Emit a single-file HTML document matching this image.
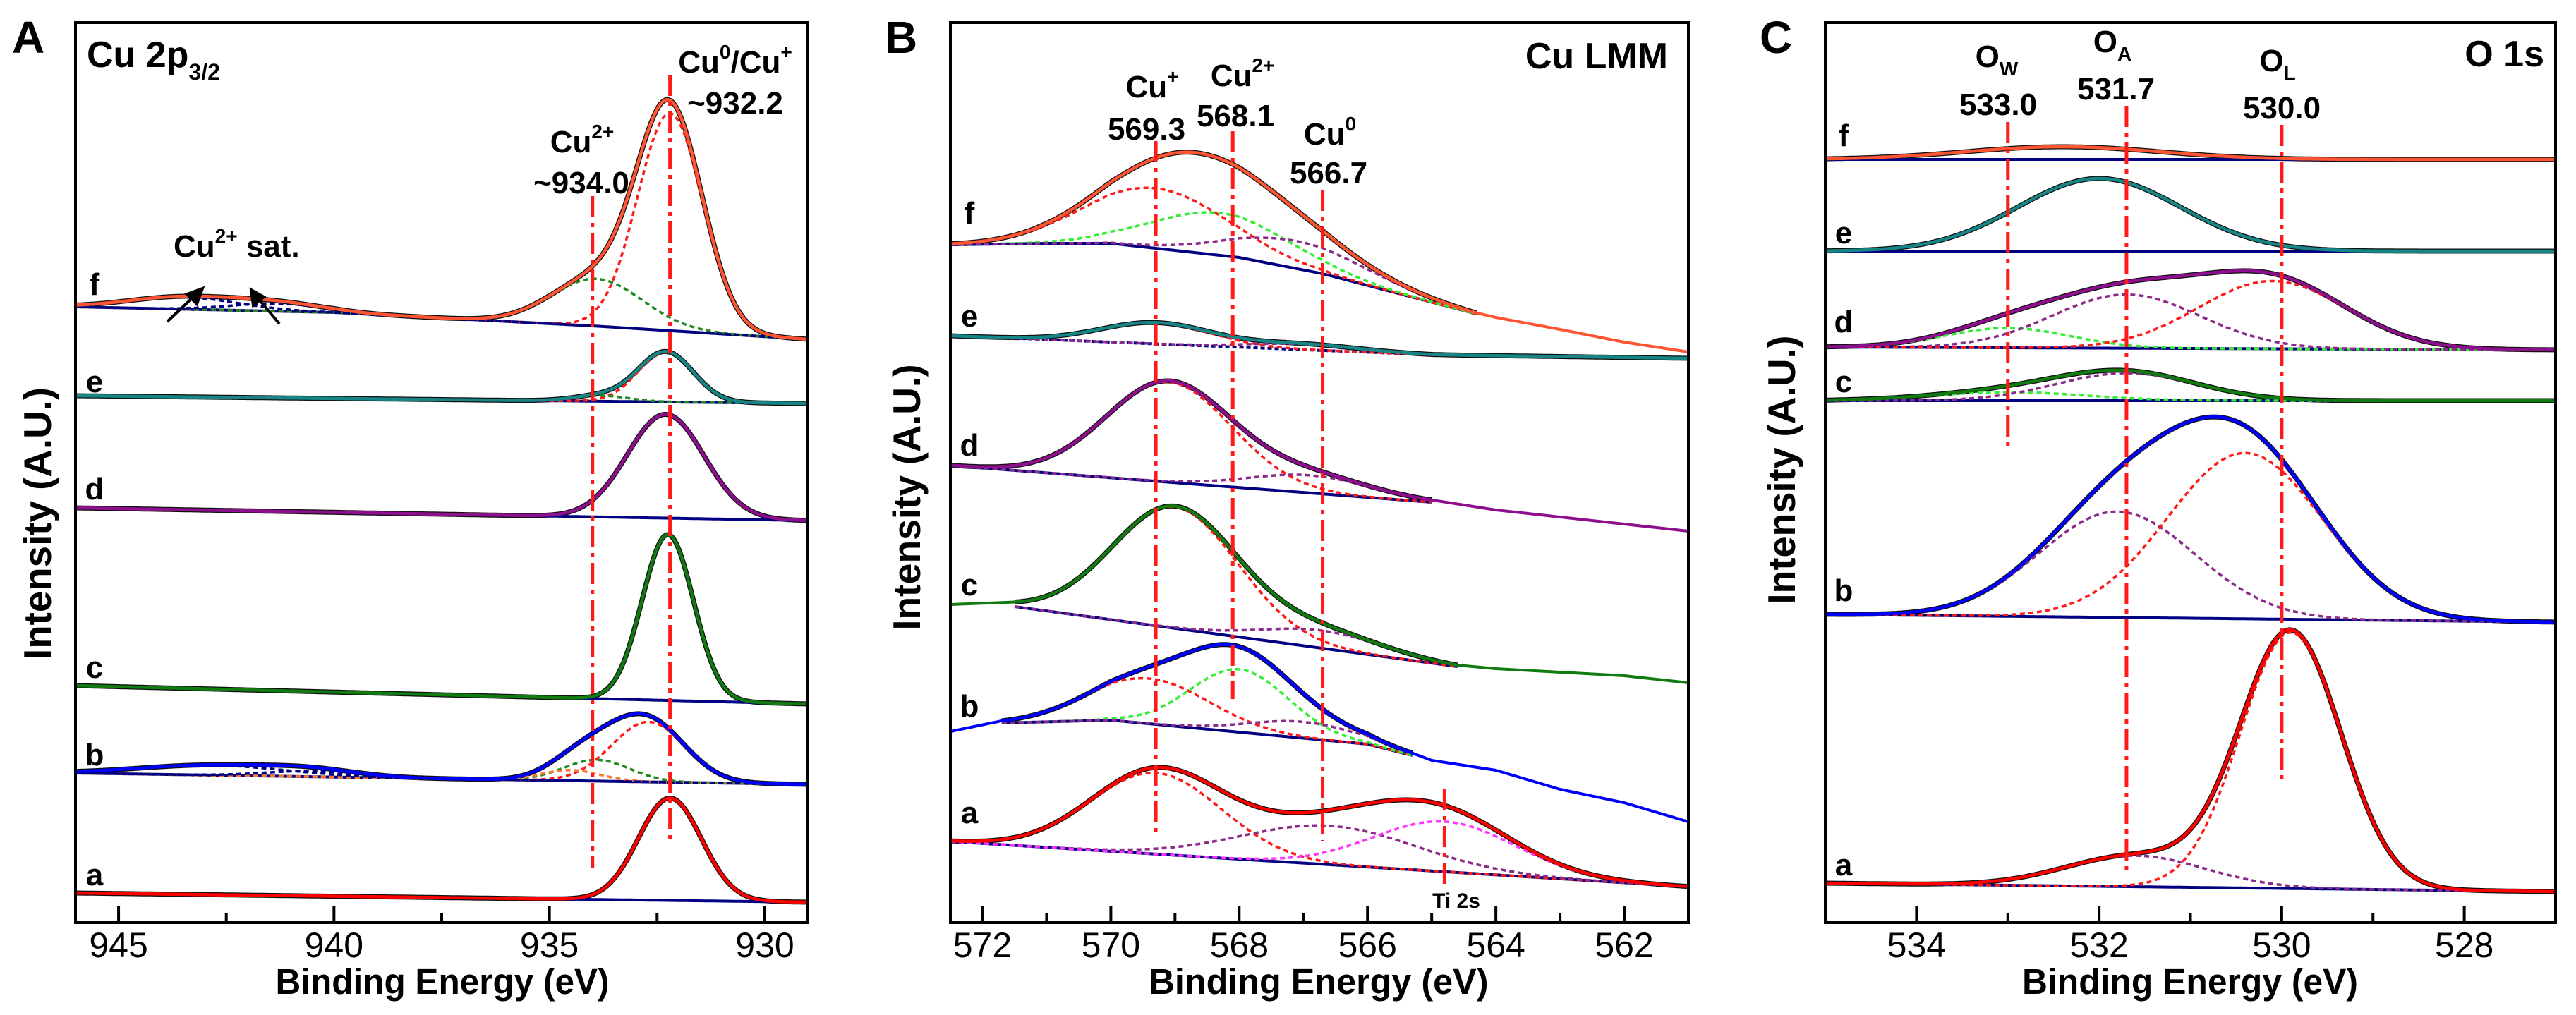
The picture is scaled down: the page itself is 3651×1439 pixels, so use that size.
<!DOCTYPE html>
<html><head><meta charset="utf-8"><title>XPS spectra</title>
<style>
html,body{margin:0;padding:0;background:#fff}
svg{display:block;font-family:"Liberation Sans",Arial,sans-serif}
.lab{font-weight:bold;font-size:44px}
.tick{font-size:50px}
</style></head>
<body>
<svg id="fig" width="3651" height="1439" viewBox="0 0 3651 1439" xmlns="http://www.w3.org/2000/svg">
<rect width="3651" height="1439" fill="#fff"/>
<g id="layer"></g>
<g font-weight="bold">
  <text x="17" y="75" font-size="64">A</text>
  <text x="1254" y="75" font-size="64">B</text>
  <text x="2494" y="75" font-size="64">C</text>
  <text x="123" y="95" font-size="52">Cu 2p<tspan font-size="32" dy="18">3/2</tspan></text>
  <text x="2364" y="97" font-size="52" text-anchor="end">Cu LMM</text>
  <text x="3606" y="94" font-size="52" text-anchor="end">O 1s</text>

  <text class="lab" x="825" y="216" text-anchor="middle">Cu<tspan font-size="28" dy="-20">2+</tspan></text>
  <text class="lab" x="824" y="274" text-anchor="middle">~934.0</text>
  <text class="lab" x="1042" y="103" text-anchor="middle">Cu<tspan font-size="28" dy="-20">0</tspan><tspan dy="20">/Cu</tspan><tspan font-size="28" dy="-20">+</tspan></text>
  <text class="lab" x="1042" y="161" text-anchor="middle">~932.2</text>
  <text class="lab" x="246" y="364">Cu<tspan font-size="28" dy="-20">2+</tspan><tspan dy="20"> sat.</tspan></text>

  <text class="lab" x="1633" y="138" text-anchor="middle">Cu<tspan font-size="28" dy="-20">+</tspan></text>
  <text class="lab" x="1625" y="198" text-anchor="middle">569.3</text>
  <text class="lab" x="1761" y="122" text-anchor="middle">Cu<tspan font-size="28" dy="-20">2+</tspan></text>
  <text class="lab" x="1751" y="179" text-anchor="middle">568.1</text>
  <text class="lab" x="1885" y="205" text-anchor="middle">Cu<tspan font-size="28" dy="-20">0</tspan></text>
  <text class="lab" x="1883" y="260" text-anchor="middle">566.7</text>
  <text x="2064" y="1287" font-size="30" text-anchor="middle">Ti 2s</text>

  <text class="lab" x="2830" y="95" text-anchor="middle">O<tspan font-size="28" dy="12">W</tspan></text>
  <text class="lab" x="2832" y="163" text-anchor="middle">533.0</text>
  <text class="lab" x="2994" y="74" text-anchor="middle">O<tspan font-size="28" dy="12">A</tspan></text>
  <text class="lab" x="2999" y="141" text-anchor="middle">531.7</text>
  <text class="lab" x="3228" y="101" text-anchor="middle">O<tspan font-size="28" dy="12">L</tspan></text>
  <text class="lab" x="3234" y="168" text-anchor="middle">530.0</text>
</g>
<g stroke="#000" stroke-width="4" fill="#000">
  <line x1="237" y1="456" x2="276" y2="419"/><polygon points="287,409 265,417 279,431"/>
  <line x1="396" y1="459" x2="365" y2="422"/><polygon points="356,411 359,433 374,421"/>
</g>
</svg>
<script>
// ---------- data (intensity units, component = [center eV, height, FWHM eV]) ----------
const aTicks = [945, 940, 935, 930];
const aMinor = [942.5, 937.5, 932.5];
const bTicks = [572, 570, 568, 566, 564, 562];
const bMinor = [571, 569, 567, 565, 563, 561];
const cTicks = [534, 532, 530, 528];
const cMinor = [533, 531, 529];

const A_f_base = [[946, 873], [940, 865], [934, 846], [929, 827]];
const A_f_comp = [[932.2, 308, 1.78], [933.9, 67, 2.5], [943.5, 17, 3.0], [941.3, 11, 2.5]];
const A_e_base = [[946, 747], [929, 736]];
const A_e_comp = [[932.3, 71, 1.5], [933.8, 8, 1.5]];
const A_d_base = [[946, 588], [929, 570]];
const A_d_comp = [[932.3, 147, 2.1]];
const A_c_base = [[946, 336], [929, 310]];
const A_c_comp = [[932.25, 235, 1.4]];
const A_b_base = [[946, 212], [929, 196]];
const A_b_comp = [[932.7, 85, 2.0], [933.9, 30, 1.8], [934.5, 15, 1.6], [942.8, 14, 4.0], [940.5, 8, 2.5]];
const A_a_base = [[946, 42], [929, 29]];
const A_a_comp = [[932.2, 145, 1.72]];

const B_f_base = [[572.5, 961], [571, 963], [570, 963], [568, 943], [566.7, 920], [564.3, 863]];
const B_f_comp = [[569.3, 85, 2.6], [568.3, 60, 2.5], [567.1, 39, 2.5]];
const B_f_tail = [[564, 858], [563, 841], [562, 823], [561, 809]];
const B_e_base = [[572.5, 832], [565, 805], [561, 800]];
const B_e_comp = [[569.3, 30, 2.0], [567.0, 8, 2.0]];
const B_d_base = [[572.5, 648], [565.0, 596]];
const B_d_comp = [[569.1, 142, 2.3], [566.9, 25, 2.2]];
const B_d_tail = [[564, 585], [563, 575], [562, 565], [561, 555]];
const B_c_base = [[571.5, 448], [564.6, 363]];
const B_c_comp = [[569.0, 172, 2.3], [566.7, 25, 2.2]];
const B_c_pre = [[572.5, 451]];
const B_c_tail = [[564, 360], [562, 350], [561, 340]];
const B_b_base = [[571.7, 283], [570, 287], [566, 253], [565.3, 237]];
const B_b_comp = [[569.4, 64, 2.2], [568.0, 89, 1.8], [567.0, 23, 2.0]];
const B_b_pre = [[572.5, 271]];
const B_b_tail = [[565, 230], [564, 216], [563, 189], [562, 170], [561, 143]];
const B_a_base = [[572.5, 115], [561, 51]];
const B_a_comp = [[569.3, 115, 2.4], [566.6, 55, 3.2], [564.8, 71, 2.6]];

const C_f_base = [[535, 1082], [527, 1082]];
const C_f_comp = [[532.4, 18, 2.5]];
const C_e_base = [[535, 952], [527, 952]];
const C_e_comp = [[532.0, 103, 2.1]];
const C_d_base = [[535, 816], [527, 812]];
const C_d_comp = [[533.0, 28, 1.6], [531.7, 76, 1.9], [530.1, 96, 1.9]];
const C_c_base = [[535, 740], [527, 740]];
const C_c_comp = [[533.0, 12, 2.0], [531.7, 39, 1.8]];
const C_b_base = [[535, 437], [527, 426]];
const C_b_comp = [[531.8, 150, 2.0], [530.4, 235, 2.0]];
const C_a_base = [[535, 56], [527, 44]];
const C_a_comp = [[529.9, 363, 1.3], [531.6, 44, 1.8]];

const aMarkers = [934.0, 932.2];
const bMarkers = [569.3, 568.1, 566.7, 564.8];
const cMarkers = [533.0, 531.7, 530.0];

// ---------- drawing ----------
const NS = 'http://www.w3.org/2000/svg';
const layer = document.getElementById('layer');
const RED = '#ff1a1a', NAVY = '#000080';
function mk(tag, attrs, parent) {
  const el = document.createElementNS(NS, tag);
  for (const k in attrs) el.setAttribute(k, attrs[k]);
  (parent || layer).appendChild(el);
  return el;
}
function gauss(E, c) { return c[1] * Math.exp(-4 * Math.LN2 * ((E - c[0]) / c[2]) ** 2); }
function interp(knots, E) {
  if (knots.length === 1) return knots[0][1];
  for (let i = 0; i < knots.length - 1; i++) {
    const a = knots[i], b = knots[i + 1];
    if ((E <= a[0] && E >= b[0]) || i === knots.length - 2) {
      const t = (a[0] - E) / (a[0] - b[0]);
      return a[1] + t * (b[1] - a[1]);
    }
  }
}
function Panel(x0, x1, e0, e1) {
  const p = { x0, x1, e0, e1, y0: 32, y1: 1308 };
  p.x = E => x0 + (e0 - E) / (e0 - e1) * (x1 - x0);
  p.y = I => 1308 - I;
  return p;
}
function pathFrom(p, pts) {
  return pts.map((q, i) => (i ? 'L' : 'M') + p.x(q[0]).toFixed(1) + ' ' + p.y(q[1]).toFixed(1)).join(' ');
}
function grid(a, b) { const out = []; const n = Math.round(Math.abs(a - b) / 0.02); for (let i = 0; i <= n; i++) out.push(a + (b - a) * i / n); return out; }

function spectrum(p, name, base, comps, opt) {
  const g = mk('g', {});
  
  
  const fs = base[0][0], fe = base[base.length - 1][0];
  const es = grid(fs, fe);
  const bl = E => interp(base, E);
  const fit = es.map(E => [E, bl(E) + comps.reduce((s, c) => s + gauss(E, c), 0)]);
  let expPts = fit.slice();
  if (opt.pre) expPts = opt.pre.concat(expPts);
  if (opt.tail) expPts = expPts.concat(opt.tail);
  // full experimental trace in colour
  const ex = mk('path', { d: pathFrom(p, expPts), fill: 'none', stroke: opt.color, 'stroke-width': 4, 'stroke-linejoin': 'round' }, g);
  
  
  // black raw data around fit
  const raw = mk('path', { d: pathFrom(p, fit), fill: 'none', stroke: '#111', 'stroke-width': 7, 'stroke-linejoin': 'round' }, g);
  
  
  // baseline
  const bp = mk('path', { d: pathFrom(p, es.map(E => [E, bl(E)])), fill: 'none', stroke: NAVY, 'stroke-width': 4, 'stroke-dasharray': opt.dotBase ? '6 4' : 'none' }, g);
  
  
  // components
  comps.forEach((c, i) => {
    const cp = mk('path', { d: pathFrom(p, es.map(E => [E, bl(E) + gauss(E, c)])), fill: 'none', stroke: opt.comp[i] || RED, 'stroke-width': 3.5, 'stroke-dasharray': '7 5' }, g);
    
    
  });
  // fit
  const fp = mk('path', { d: pathFrom(p, fit), fill: 'none', stroke: opt.color, 'stroke-width': 4.5, 'stroke-linejoin': 'round' }, g);
  
  
}

function axes(p, id, ticks, minor, xtitleX, xtitleLen, ytX, ytY, ytLen) {
  const g = mk('g', {});
  
  
  const fr = mk('rect', { x: p.x0, y: p.y0, width: p.x1 - p.x0, height: p.y1 - p.y0, fill: 'none', stroke: '#000', 'stroke-width': 4 }, g);
  
  
  ticks.forEach(t => {
    const tl = mk('line', { x1: p.x(t), x2: p.x(t), y1: p.y1, y2: p.y1 - 23, stroke: '#000', 'stroke-width': 4 }, g);
    
    
    const tx = mk('text', { x: p.x(t), y: 1357, 'text-anchor': 'middle', class: 'tick' }, g);
    
    
    tx.textContent = t;
  });
  minor.forEach(t => {
    const tl = mk('line', { x1: p.x(t), x2: p.x(t), y1: p.y1, y2: p.y1 - 13, stroke: '#000', 'stroke-width': 4 }, g);
    
    
  });
  const xt = mk('text', { x: xtitleX, y: 1409, 'text-anchor': 'middle', 'font-weight': 'bold', 'font-size': 51, textLength: xtitleLen, lengthAdjust: 'spacingAndGlyphs' }, g);
  
  
  xt.textContent = 'Binding Energy (eV)';
  const yt = mk('text', { x: 0, y: 0, 'text-anchor': 'middle', 'font-weight': 'bold', 'font-size': 55, textLength: ytLen, lengthAdjust: 'spacingAndGlyphs', transform: `translate(${ytX + 19},${ytY}) rotate(-90)` }, g);
  
  
  yt.textContent = 'Intensity (A.U.)';
}

function marker(p, E, yTop, yBot) {
  const l = mk('line', { x1: p.x(E), x2: p.x(E), y1: yTop, y2: yBot, stroke: RED, 'stroke-width': 5, 'stroke-dasharray': '30 8 6 8' });
  
  
}
function letter(x, y, t) {
  const tx = mk('text', { x, y: y + 16, 'text-anchor': 'middle', class: 'lab' });
  
  
  tx.textContent = t;
}

const PA = Panel(107, 1145, 946, 929);
const PB = Panel(1347, 2393, 572.5, 561);
const PC = Panel(2587, 3622, 535, 527);

const cF = '#ff5533', cE = '#178585', cD = '#8e0f8e', cC = '#117a11', cB = '#0000ff', cA = '#ff0000';
const DG = '#1f8a1f', LIME = '#33ee33', PUR = '#8b2a8b', MAG = '#ff33ff', OR = '#ff7733';

// Panel A
spectrum(PA, 'a-f', A_f_base, A_f_comp, { color: cF, comp: [RED, DG, NAVY, NAVY] });
spectrum(PA, 'a-e', A_e_base, A_e_comp, { color: cE, comp: [RED, DG] });
spectrum(PA, 'a-d', A_d_base, A_d_comp, { color: cD, comp: [PUR] });
spectrum(PA, 'a-c', A_c_base, A_c_comp, { color: cC, comp: [DG] });
spectrum(PA, 'a-b', A_b_base, A_b_comp, { color: cB, comp: [RED, DG, OR, NAVY, NAVY] });
spectrum(PA, 'a-a', A_a_base, A_a_comp, { color: cA, comp: [RED] });
marker(PA, aMarkers[0], 278, 1230);
marker(PA, aMarkers[1], 106, 1193);
axes(PA, 'a', aTicks, aMinor, 627, 473, 53, 742, 386);
[['f', 402], ['e', 540], ['d', 692], ['c', 945], ['b', 1069], ['a', 1239]].forEach(q => letter(134, q[1], q[0]));

// Panel B
spectrum(PB, 'b-f', B_f_base, B_f_comp, { color: cF, comp: [RED, LIME, PUR], tail: B_f_tail });
spectrum(PB, 'b-e', B_e_base, B_e_comp, { color: cE, comp: [RED, PUR], dotBase: true });
spectrum(PB, 'b-d', B_d_base, B_d_comp, { color: cD, comp: [RED, PUR], tail: B_d_tail });
spectrum(PB, 'b-c', B_c_base, B_c_comp, { color: cC, comp: [RED, PUR], pre: B_c_pre, tail: B_c_tail });
spectrum(PB, 'b-b', B_b_base, B_b_comp, { color: cB, comp: [RED, LIME, PUR], pre: B_b_pre, tail: B_b_tail });
spectrum(PB, 'b-a', B_a_base, B_a_comp, { color: cA, comp: [RED, PUR, MAG] });
marker(PB, bMarkers[0], 200, 1188);
marker(PB, bMarkers[1], 186, 991);
marker(PB, bMarkers[2], 269, 1193);
marker(PB, bMarkers[3], 1119, 1257);
axes(PB, 'b', bTicks, bMinor, 1869, 481, 1285, 705, 377);
[['f', 301], ['e', 447], ['d', 630], ['c', 828], ['b', 1000], ['a', 1151]].forEach(q => letter(1374, q[1], q[0]));

// Panel C
spectrum(PC, 'c-f', C_f_base, C_f_comp, { color: cF, comp: [RED] });
spectrum(PC, 'c-e', C_e_base, C_e_comp, { color: cE, comp: [RED] });
spectrum(PC, 'c-d', C_d_base, C_d_comp, { color: cD, comp: [LIME, PUR, RED] });
spectrum(PC, 'c-c', C_c_base, C_c_comp, { color: cC, comp: [LIME, PUR] });
spectrum(PC, 'c-b', C_b_base, C_b_comp, { color: cB, comp: [PUR, RED] });
spectrum(PC, 'c-a', C_a_base, C_a_comp, { color: cA, comp: [RED, PUR] });
marker(PC, cMarkers[0], 173, 632);
marker(PC, cMarkers[1], 150, 1234);
marker(PC, cMarkers[2], 177, 1110);
axes(PC, 'c', cTicks, cMinor, 3104, 476, 2525, 666, 381);
[['f', 191], ['e', 329], ['d', 455], ['c', 540], ['b', 836], ['a', 1225]].forEach(q => letter(2613, q[1], q[0]));
</script>
</body></html>
